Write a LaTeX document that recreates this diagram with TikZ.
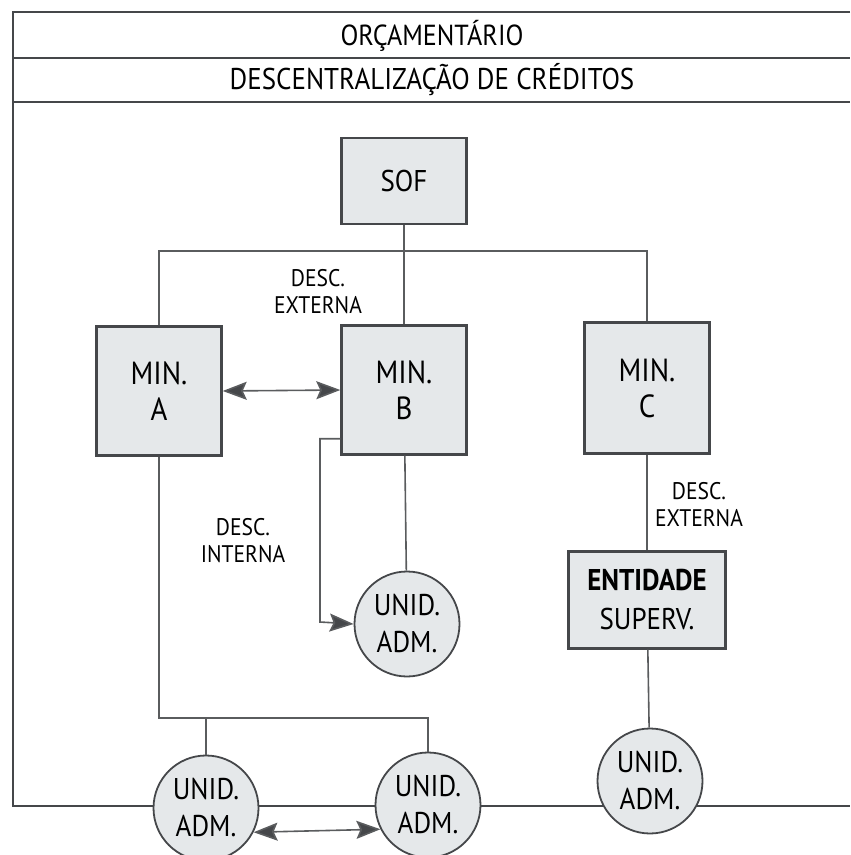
\documentclass[tikz,border=0pt]{standalone}
\usepackage{fontspec}
\setmainfont{PT Sans}[FakeStretch=0.9]
\usetikzlibrary{arrows.meta}
\definecolor{orline}{HTML}{45474A}
\definecolor{orlink}{HTML}{5A5C5E}
\definecolor{orfill}{HTML}{E5E8EA}

\begin{document}
\begin{tikzpicture}[x=0.5pt, y=-0.5pt,
    box/.style={draw=orline, fill=orfill, line width=1.2pt, inner sep=0pt, align=center,
      font=\fontsize{16}{18}\selectfont},
    unid/.style={circle, draw=orline, fill=orfill, line width=0.9pt, minimum size=52.5pt,
      inner sep=0pt, align=center, font=\fontsize{15}{18.5}\selectfont},
    link/.style={draw=orlink, line width=0.8pt},
    tip/.style={-{Stealth[length=12pt, width=9pt, inset=2pt, fill=orline]}},
    dup/.style={link, {Stealth[length=12pt, width=9pt, inset=2pt, fill=orline]}-{Stealth[length=12pt, width=9pt, inset=2pt, fill=orline]}},
    lbl/.style={align=center, font=\fontsize{12}{13.5}\selectfont},
    frame/.style={draw=orline, line width=1.4pt}]
    \useasboundingbox (0,0) rectangle (850,855);

    \draw[frame] (850,12) -- (13,12) -- (13,806) -- (850,806);
    \draw[frame] (13,58) -- (850,58);
    \draw[frame] (13,102) -- (850,102);
    \node[font=\fontsize{14.5}{16}\selectfont] (title) at (432,36) {ORÇAMENTÁRIO};
    \node[font=\fontsize{15}{16}\selectfont] (subtitle) at (432,80) {DESCENTRALIZAÇÃO DE CRÉDITOS};

    \node[box, minimum width=62.5pt, minimum height=43pt, font=\fontsize{15}{16}\selectfont]
      (sof) at (404,181) {SOF};
    \node[box, minimum width=62.5pt, minimum height=64.5pt] (mina) at (159,391) {MIN.\\A};
    \node[box, minimum width=62.5pt, minimum height=64.5pt] (minb) at (404,390) {MIN.\\B};
    \node[box, minimum width=62.5pt, minimum height=65.5pt] (minc) at (647,388) {MIN.\\C};
    \node[box, minimum width=78.5pt, minimum height=48.5pt, font=\fontsize{15}{19.5}\selectfont]
      (ent) at (647,600) {\textbf{ENTIDADE}\\SUPERV.};

    \node[unid] (unidb) at (407,624) {UNID.\\ADM.};
    \node[unid] (unidc) at (650,781) {UNID.\\ADM.};
    \node[unid] (unidl) at (206,808) {UNID.\\ADM.};
    \node[unid] (unidr) at (428,805) {UNID.\\ADM.};

    \coordinate (split) at (404,251);
    \coordinate (bus) at (0,718);
    \coordinate (bend) at (320,622);

    \draw[link] (sof) -- (minb);
    \draw[link] (mina.north) |- (split) -| (minc.north);
    \draw[dup] (mina.east) -- (minb.west);
    \draw[link] (minb) -- (unidb);
    \draw[link, tip] ([yshift=8.5pt] minb.south west) -| (bend) -- (unidb.west);
    \draw[link] (mina.south) |- (unidr |- bus) -- (unidr);
    \draw[link] (unidl |- bus) -- (unidl);
    \draw[dup] (unidl.-27) -- (unidr.207);
    \draw[link] (minc) -- (ent);
    \draw[link] (ent) -- (unidc);

    \node[lbl] (descext) at (318,292) {DESC.\\EXTERNA};
    \node[lbl] (descint) at (243,541) {DESC.\\INTERNA};
    \node[lbl] (descsup) at (699,505) {DESC.\\EXTERNA};
\end{tikzpicture}
\end{document}
